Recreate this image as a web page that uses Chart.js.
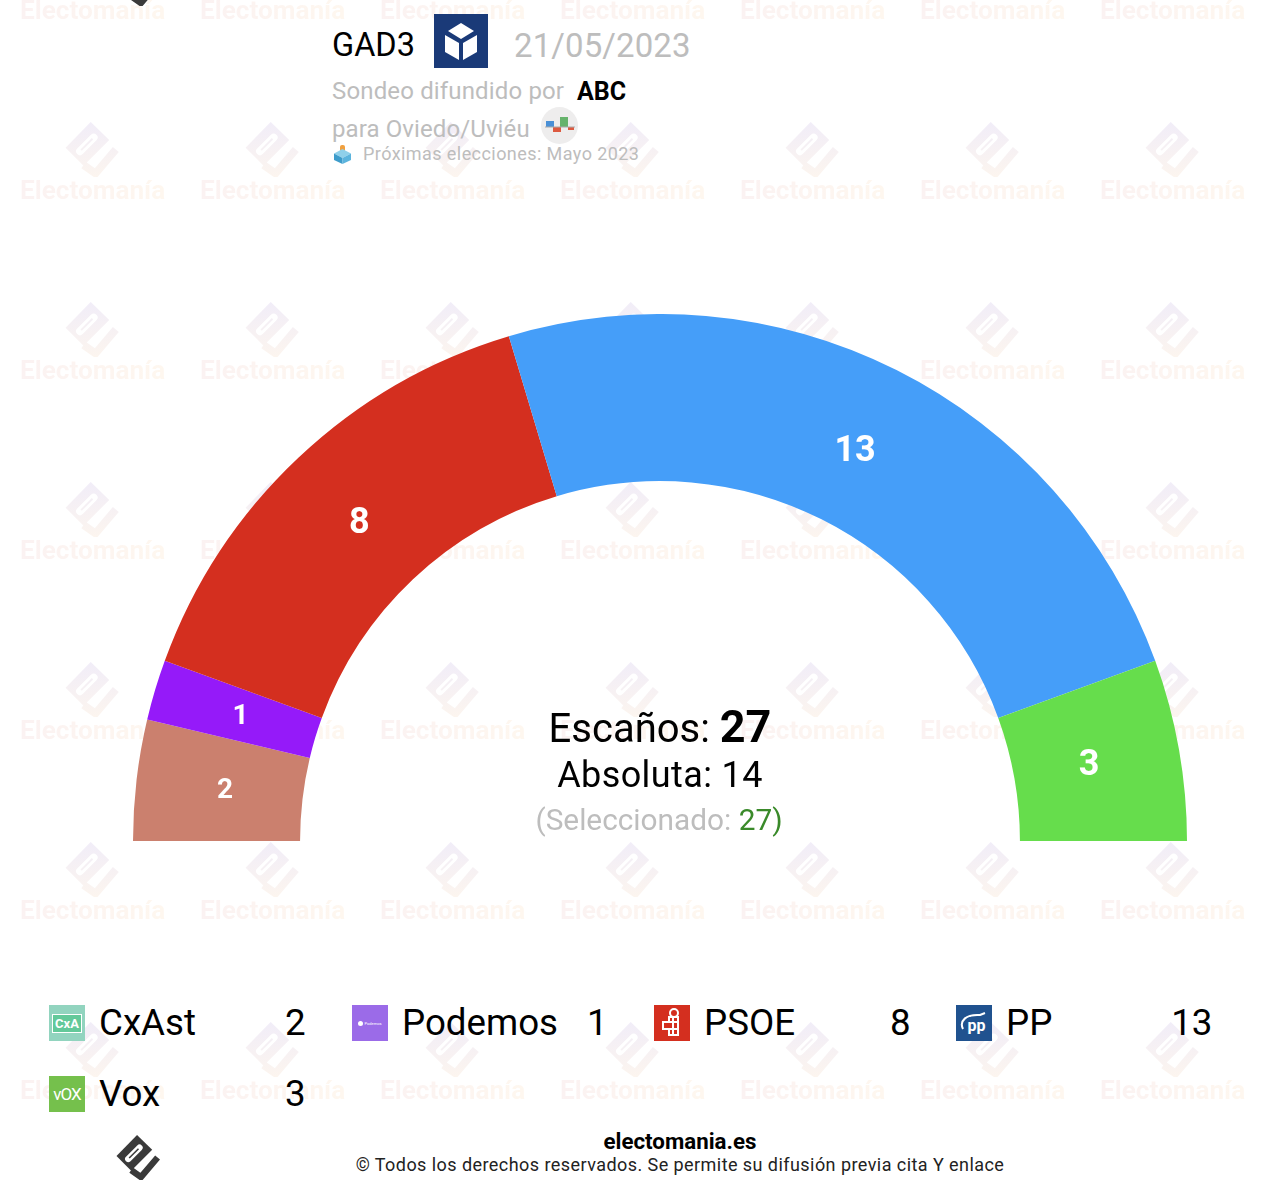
<!DOCTYPE html>
<html lang="es">
<head>
<meta charset="utf-8">
<title>GAD3 - Oviedo/Uviéu</title>
<script src="https://cdn.jsdelivr.net/npm/chart.js@4"></script>
<style>
    html, body { margin: 0; padding: 0; background: #fff; overflow: hidden; }
    body { width: 1278px; height: 1198px; position: relative; font-family: Roboto, sans-serif; color: #000; }
    #chartBox { position: absolute; left: 133px; top: 314px; width: 1054px; height: 527px; }
    .txt { position: absolute; line-height: 1; white-space: nowrap; }
    .mark { background: linear-gradient(90deg, #fbf2f2, #fef7ef); -webkit-background-clip: text; background-clip: text; color: transparent; font-weight: 700; }
    .icon { position: absolute; width: 36px; height: 36px; overflow: hidden; color: #fff; display: flex; align-items: center; justify-content: center; font-weight: 700; }
    svg { position: absolute; display: block; }
</style>
</head>
<body>
<div id="wm"></div>
<div id="chartBox"><canvas id="seatChart"></canvas></div>
<div id="txt"></div>
<script>
// Poll data
const parties = ['CxAst', 'Podemos', 'PSOE', 'PP', 'Vox'];
const seats = [2, 1, 8, 13, 3];
const partyColors = ['#cb806e', '#951af9', '#d42f1f', '#459ef9', '#66dd4c'];
const iconColors = ['#92d4bf', '#9b6be8', '#d42f1f', '#20528f', '#75c04c'];
const totalSeats = 27;
const majority = 14;
const selected = 27;

const layer = document.getElementById('txt');
const wmLayer = document.getElementById('wm');

// roboto baseline sits at about .84em when line-height is 1
function label(html, x, baseline, size, opts = {}) {
    const el = document.createElement('div');
    el.className = 'txt ' + (opts.cls || '');
    el.innerHTML = html;
    el.style.fontSize = size + 'px';
    el.style.top = (baseline - size * 0.8415) + 'px';
    if (opts.right !== undefined) el.style.right = (1278 - opts.right) + 'px';
    else if (opts.center) { el.style.left = x + 'px'; el.style.transform = 'translateX(-50%)'; }
    else el.style.left = x + 'px';
    if (opts.color) el.style.color = opts.color;
    if (opts.weight) el.style.fontWeight = opts.weight;
    if (opts.spacing) el.style.letterSpacing = opts.spacing + 'px';
    (opts.parent || layer).appendChild(el);
    return el;
}

function logoSvg(x, y, size, c1, c2, id) {
    const fill = c2 ? `url(#${id})` : c1;
    const grad = c2 ? `<defs><linearGradient id="${id}" gradientUnits="userSpaceOnUse" x1="0" y1="0" x2="0" y2="46"><stop offset="0" stop-color="${c1}"/><stop offset="1" stop-color="${c2}"/></linearGradient></defs>` : '';
    return `<svg style="left:${x}px;top:${y}px" width="${size}" height="${size}" viewBox="0 0 45 46">${grad}
        <path fill="${fill}" d="M21 0L36.500 15L15 36.500L0 21.500Z"/>
        <path stroke="#fff" stroke-width="6.500" stroke-linecap="round" d="M12 24.500L23.500 13"/>
        <path stroke="${fill}" stroke-width="1.600" d="M13 23.500L22.500 14"/>
        <path fill="none" stroke="${fill}" stroke-width="6.500" d="M15 36L25 43L42 23"/>
    </svg>`;
}

// Watermark grid
function buildWatermark() {
    let html = '';
    for (let row = 0; row < 7; row++) {
        for (let col = 0; col < 7; col++) {
            html += logoSvg(65 + col * 180, -58 + row * 180, 55, '#f1edf8', '#fcf5ef', `wm${row}${col}`);
        }
    }
    wmLayer.innerHTML = html;
    for (let row = 0; row < 7; row++) {
        for (let col = 0; col < 7; col++) {
            label('Electomanía', 20 + col * 180, 19 + row * 180, 26.200, { cls: 'mark', parent: wmLayer });
        }
    }
}

function buildHeader() {
    layer.insertAdjacentHTML('beforeend', logoSvg(116, -39, 45, '#3a3a3a'));
    label('GAD3', 332, 56.500, 32.500);
    layer.insertAdjacentHTML('beforeend', `<svg style="left:434px;top:14px" width="54" height="54" viewBox="0 0 54 54">
        <rect width="54" height="54" fill="#1a3a78"/>
        <path fill="#fff" d="M27 9L40 17L27 25L14 17Z"/>
        <path fill="#fff" d="M11 21L25 29V46L11 38Z"/>
        <path fill="#fff" d="M43 21L29 29V46L43 38Z"/>
    </svg>`);
    label('21/05/2023', 514, 56.500, 33, { color: '#bdbdbd', spacing: 0.100 });
    label('Sondeo difundido por', 332, 99, 24, { color: '#bdbdbd', spacing: 0.150 });
    label('ABC', 577, 100, 25, { weight: 700 });
    label('para Oviedo/Uviéu', 332, 137, 24, { color: '#bdbdbd', spacing: 0.100 });
    layer.insertAdjacentHTML('beforeend', `<svg style="left:541px;top:107px" width="37" height="37" viewBox="0 0 37 37">
        <circle cx="18.500" cy="18.500" r="18.500" fill="#eeeded"/>
        <rect x="5" y="14" width="8" height="6" fill="#4a90d6"/>
        <rect x="12" y="20" width="8" height="5" fill="#dd5a40"/>
        <rect x="19" y="10" width="8" height="10" fill="#66b36c"/>
        <rect x="27" y="20" width="6" height="3" fill="#dd5a40"/>
        <rect x="4" y="19.500" width="30" height="1" fill="#aaa"/>
    </svg>`);
    layer.insertAdjacentHTML('beforeend', `<svg style="left:333px;top:145px" width="19" height="19" viewBox="0 0 19 19">
        <rect x="7" y="0" width="5" height="7" rx="2" fill="#f0a040"/>
        <path fill="#8fd0ea" d="M9.500 4L18 8.500L9.500 13L1 8.500Z"/>
        <path fill="#3d9ccb" d="M1 8.500L9.500 13V19L1 15Z"/>
        <path fill="#5cb4dd" d="M18 8.500L9.500 13V19L18 15Z"/>
    </svg>`);
    label('Próximas elecciones: Mayo 2023', 363, 160, 18, { color: '#bdbdbd', spacing: 0.430 });
}

function buildCenter() {
    label(`Escaños: <span style="font-weight:700;font-size:45px">${totalSeats}</span>`, 660, 742, 40, { center: true }).style.top = '704px';
    label(`Absoluta: ${majority}`, 660, 787, 36, { center: true, spacing: 0.400 });
    label(`(Seleccionado: <span style="color:#3a8a2a">${selected})</span>`, 659, 830, 29.800, { center: true, color: '#bdbdbd' });
}

const iconInner = [
    '<div style="width:30px;height:19px;box-sizing:border-box;border:1px solid #fff;background:#63c99a;font-size:13px;line-height:17px;text-align:center">CxA</div>',
    '<div style="display:flex;align-items:center;font-size:4px;font-weight:400"><span style="width:5px;height:5px;border-radius:50%;background:#fff;margin-right:1px"></span>Podemos</div>',
    '<svg width="24" height="30" viewBox="0 0 24 30" style="left:6px;top:3px"><path fill="none" stroke="#fff" stroke-width="2" d="M9 9H18V27H9V21H3V14H9ZM9 14H18M9 21H18M13 9V27"/><circle cx="14" cy="5" r="4" fill="none" stroke="#fff" stroke-width="2"/></svg>',
    '<svg width="36" height="36" viewBox="0 0 36 36" style="left:0;top:0"><path fill="none" stroke="#fff" stroke-width="2" d="M7 24C3 16 10 9 24 10M24 10L29 8"/></svg><div style="font-size:16px;margin:5px 0 0 5px;font-weight:700;position:relative">pp</div>',
    '<div style="font-size:17px;font-weight:400;letter-spacing:-1px">vOX</div>'
];

// Legend is 4 columns, Vox wraps to the second row
function buildLegend() {
    const colX = [49, 352, 654, 956];
    const rowY = [1005, 1076];
    const valueRight = [305.500, 607.500, 910.500, 1212.500];
    parties.forEach((name, i) => {
        const col = i % 4;
        const row = Math.floor(i / 4);
        const icon = document.createElement('div');
        icon.className = 'icon';
        icon.style.left = colX[col] + 'px';
        icon.style.top = rowY[row] + 'px';
        icon.style.background = iconColors[i];
        icon.innerHTML = iconInner[i];
        layer.appendChild(icon);
        label(name, colX[col] + 50, rowY[row] + 31, 36.700);
        label(String(seats[i]), 0, rowY[row] + 31, 36.700, { right: valueRight[col] });
    });
}

function buildFooter() {
    layer.insertAdjacentHTML('beforeend', logoSvg(116, 1135, 45, '#3a3a3a'));
    label('electomania.es', 680, 1149, 22.300, { center: true, weight: 700 });
    label('© Todos los derechos reservados. Se permite su difusión previa cita Y enlace', 680, 1171, 18, { center: true, spacing: 0.440, color: '#222' });
}

// Seat numbers inside each slice
const sliceLabels = {
    id: 'sliceLabels',
    afterDatasetsDraw(chart) {
        const { ctx } = chart;
        const arcs = chart.getDatasetMeta(0).data;
        ctx.save();
        ctx.fillStyle = '#fff';
        ctx.textAlign = 'center';
        ctx.textBaseline = 'middle';
        arcs.forEach((arc, i) => {
            const pos = arc.tooltipPosition();
            const x = arc.x + (pos.x - arc.x) * 0.985 - 1;
            const y = arc.y + (pos.y - arc.y) * 0.985 + 1;
            ctx.font = (seats[i] < 3 ? '700 28px' : '700 36px') + ' Roboto';
            ctx.fillText(seats[i], x, y);
        });
        ctx.restore();
    }
};

function buildChart() {
    const ctx = document.getElementById('seatChart').getContext('2d');
    return new Chart(ctx, {
        type: 'doughnut',
        data: {
            labels: parties,
            datasets: [{
                data: seats,
                backgroundColor: partyColors,
                borderWidth: 0
            }]
        },
        options: {
            responsive: true,
            maintainAspectRatio: false,
            animation: false,
            rotation: -90,
            circumference: 180,
            cutout: '68.3%',
            layout: { padding: 0 },
            plugins: {
                legend: { display: false },
                tooltip: { enabled: false }
            }
        },
        plugins: [sliceLabels]
    });
}

buildWatermark();
buildHeader();
buildCenter();
buildLegend();
buildFooter();
buildChart();
</script>
</body>
</html>
